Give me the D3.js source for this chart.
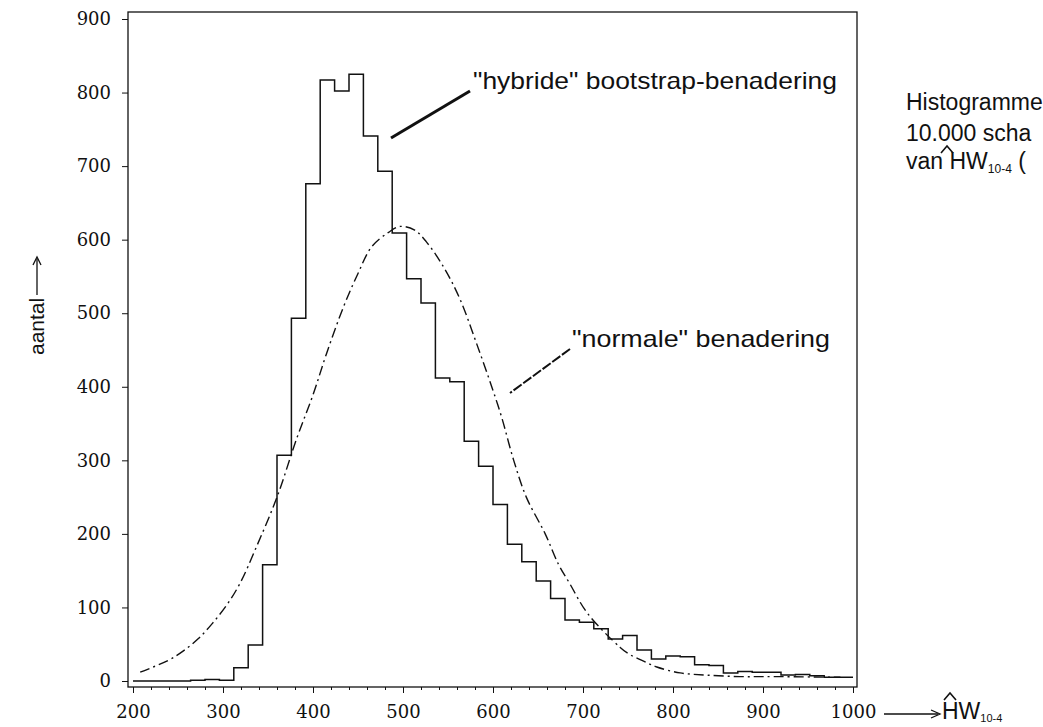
<!DOCTYPE html>
<html>
<head>
<meta charset="utf-8">
<script src="https://cdn.jsdelivr.net/npm/d3@7"></script>
<style>
  html, body { margin: 0; padding: 0; background: #fff; }
  svg { display: block; }
  .tick text { font-family: "DejaVu Serif", serif; font-size: 18px; fill: #111; }
  .ann { font-family: "Liberation Sans", Arial, sans-serif; fill: #111; }
</style>
</head>
<body>
<svg id="chart" width="1043" height="727"></svg>
<script>
// ---- data ----
const binLefts = [200,216,232,248,264,280,296,312,328,344,360,376,392,408,424,440,456,472,488,504,
                  520,536,552,568,584,600,616,632,648,664,680,696,712,728,744,760,776,792,808,824,
                  840,856,872,888,904,920,936,952,968,984];
const binCounts = [0,0,0,0,1,2,1,18,49,158,307,493,676,817,802,825,741,693,609,547,
                   514,412,407,326,292,240,186,162,136,112,83,80,71,57,62,42,30,34,33,22,
                   21,11,13,12,12,8,9,7,5,5];
const binWidth = 16;
const normalX = [208,239,256,273,288,304,319,337,360,382,400,415,434,450,465,484,497,513,526,545,
                 563,582,600,610,623,637,658,673,685,705,741,752,769,782,808,837,874,912,986];
const normalY = [12,28,41,58,78,103,133,182,250,330,389,445,509,554,590,610,618,613,597,563,
                 520,458,395,357,300,250,200,158,133,92,46,36,26,19,11,8,6,6,5];
const xMajorTicks = [200,300,400,500,600,700,800,900,1000];
const xMinorTicks = d3.range(200, 1001, 20).filter(v => v % 100 !== 0);
const yTicks = [0,100,200,300,400,500,600,700,800,900];

// ---- layout ----
const svg = d3.select("#chart");
const x = d3.scaleLinear().domain([200, 1000]).range([133, 853]);
const y = d3.scaleLinear().domain([0, 900]).range([681, 19]);
const frame = { left: 128, right: 857, top: 12, bottom: 687 };
const ink = "#111";

// frame
svg.append("rect")
  .attr("x", frame.left).attr("y", frame.top)
  .attr("width", frame.right - frame.left).attr("height", frame.bottom - frame.top)
  .attr("fill", "none").attr("stroke", ink).attr("stroke-width", 1.3);

// y axis
const yAxis = svg.append("g")
  .attr("transform", `translate(${frame.left},0)`)
  .call(d3.axisLeft(y).tickValues(yTicks).tickSize(6).tickPadding(11).tickFormat(d3.format("d")));
yAxis.select(".domain").remove();
yAxis.selectAll("line").attr("stroke", ink);

// x axis major
const xAxis = svg.append("g")
  .attr("transform", `translate(0,${frame.bottom})`)
  .call(d3.axisBottom(x).tickValues(xMajorTicks).tickSize(6).tickPadding(12).tickFormat(d3.format("d")));
xAxis.select(".domain").remove();
xAxis.selectAll("line").attr("stroke", ink);
// x axis minor
const xAxisMinor = svg.append("g")
  .attr("transform", `translate(0,${frame.bottom})`)
  .call(d3.axisBottom(x).tickValues(xMinorTicks).tickSize(3).tickFormat(""));
xAxisMinor.select(".domain").remove();
xAxisMinor.selectAll("line").attr("stroke", ink);

// histogram (step line)
const histPts = binLefts.map((l, i) => [l, binCounts[i]]);
histPts.push([binLefts[binLefts.length - 1] + binWidth, binCounts[binCounts.length - 1]]);
svg.append("path")
  .attr("d", d3.line().x(d => x(d[0])).y(d => y(d[1])).curve(d3.curveStepAfter)(histPts))
  .attr("fill", "none").attr("stroke", ink).attr("stroke-width", 1.5);

// normal approximation (dash-dot)
const normPts = normalX.map((v, i) => [v, normalY[i]]);
svg.append("path")
  .attr("d", d3.line().x(d => x(d[0])).y(d => y(d[1])).curve(d3.curveCatmullRom)(normPts))
  .attr("fill", "none").attr("stroke", ink).attr("stroke-width", 1.4)
  .attr("stroke-dasharray", "10,4,2,4");

// annotations
svg.append("text").attr("class", "ann")
  .attr("x", 473).attr("y", 89).attr("font-size", 24)
  .attr("textLength", 364).attr("lengthAdjust", "spacingAndGlyphs")
  .text("\"hybride\" bootstrap-benadering");
svg.append("line").attr("x1", 470).attr("y1", 91).attr("x2", 391).attr("y2", 138)
  .attr("stroke", ink).attr("stroke-width", 3);

svg.append("text").attr("class", "ann")
  .attr("x", 572).attr("y", 347).attr("font-size", 24)
  .attr("textLength", 258).attr("lengthAdjust", "spacingAndGlyphs")
  .text("\"normale\" benadering");
svg.append("line").attr("x1", 570).attr("y1", 349).attr("x2", 510).attr("y2", 393)
  .attr("stroke", ink).attr("stroke-width", 2).attr("stroke-dasharray", "10,2");

// hat glyph drawn as a small chevron
function hat(cx, cy) {
  svg.append("path").attr("d", `M${cx - 6},${cy + 7} L${cx},${cy} L${cx + 6},${cy + 7}`)
    .attr("fill", "none").attr("stroke", ink).attr("stroke-width", 1.6);
}

// right-hand caption (runs off the page)
svg.append("text").attr("class", "ann").attr("x", 906).attr("y", 110).attr("font-size", 23)
  .text("Histogramme");
svg.append("text").attr("class", "ann").attr("x", 906).attr("y", 141).attr("font-size", 23)
  .text("10.000 scha");
const cap3 = svg.append("text").attr("class", "ann").attr("x", 906).attr("y", 169).attr("font-size", 23);
cap3.append("tspan").text("van ");
cap3.append("tspan").text("HW");
cap3.append("tspan").attr("font-size", 12).attr("dy", 4).text("10-4");
cap3.append("tspan").attr("dy", -4).text(" (");
hat(947, 146);

// x-axis label with arrow
svg.append("line").attr("x1", 884).attr("y1", 714).attr("x2", 938).attr("y2", 714)
  .attr("stroke", ink).attr("stroke-width", 1.3);
svg.append("path").attr("d", "M931,710 L940,714 L931,718")
  .attr("fill", "none").attr("stroke", ink).attr("stroke-width", 1.3);
const xl = svg.append("text").attr("class", "ann").attr("x", 942).attr("y", 719).attr("font-size", 23);
xl.append("tspan").text("HW");
xl.append("tspan").attr("font-size", 11).attr("dy", 3).text("10-4");
hat(950, 693);

// y-axis label with arrow
const yl = svg.append("g").attr("transform", "translate(44,355) rotate(-90)");
yl.append("text").attr("class", "ann").attr("x", 0).attr("y", 0).attr("font-size", 21).text("aantal");
yl.append("line").attr("x1", 60).attr("y1", -7).attr("x2", 96).attr("y2", -7)
  .attr("stroke", ink).attr("stroke-width", 1.3);
yl.append("path").attr("d", "M90,-11 L98,-7 L90,-3")
  .attr("fill", "none").attr("stroke", ink).attr("stroke-width", 1.3);
</script>
</body>
</html>
